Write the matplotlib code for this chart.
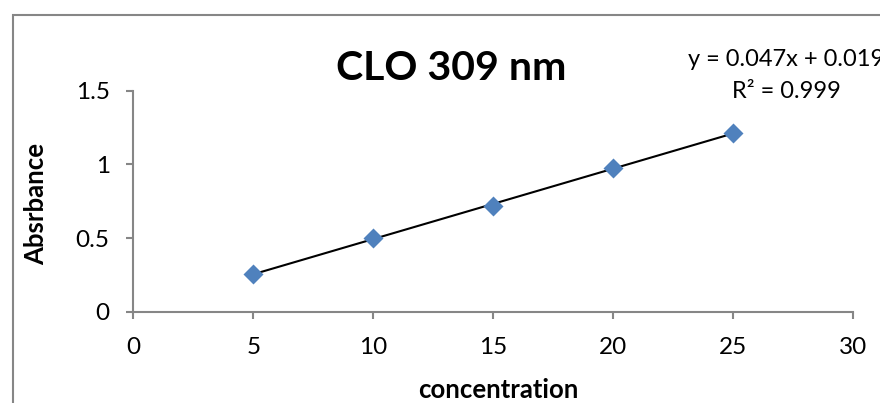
import numpy as np
import matplotlib
matplotlib.use("Agg")
from matplotlib import pyplot as plt
from matplotlib.patches import Rectangle

# calibration data
conc = [5, 10, 15, 20, 25]
absorb = [0.256, 0.498, 0.718, 0.978, 1.211]
xticks = [0, 5, 10, 15, 20, 25, 30]
yticks = [0, 0.5, 1, 1.5]
title = "CLO 309 nm"
eq_line = "y = 0.047x + 0.019"
r2_line = "R² = 0.999"

plt.rcParams['font.family'] = ['Lato', 'DejaVu Sans']
grey = "#868686"
blue = "#4F81BD"

W, H = 880, 403
fig = plt.figure(figsize=(8.8, 4.03), dpi=100)
ax = fig.add_axes([133.3/W, 1-311.7/H, 720/W, 221/H])

# outer chart border (cropped on the right and bottom)
fig.patches.append(Rectangle((12.5/W, -0.1), 1.2, 1.1 - 15/H,
                             transform=fig.transFigure, fill=False,
                             edgecolor=grey, lw=1.5))

# linear trendline
k, b = np.polyfit(conc, absorb, 1)
xs = np.array([conc[0], conc[-1]])
ax.plot(xs, k*xs + b, color="black", lw=1.5, zorder=2)
ax.plot(conc, absorb, ls="none", marker="D", ms=10, color=blue, mec="none", zorder=3)

ax.set_xlim(0, 30)
ax.set_ylim(0, 1.5)
ax.set_xticks(xticks)
ax.set_yticks(yticks)
ax.set_xticklabels([str(v) for v in xticks])
ax.set_yticklabels(["0", "0.5", "1", "1.5"])
for s in ["top", "right"]:
    ax.spines[s].set_visible(False)
for s in ["left", "bottom"]:
    ax.spines[s].set_color(grey)
    ax.spines[s].set_linewidth(1.5)
ax.tick_params(axis="both", direction="out", length=5, width=1.5, color=grey,
               labelsize=17.5, labelcolor="black")
ax.tick_params(axis="y", pad=12)
ax.tick_params(axis="x", pad=13)

fig.text(451.5/W, 1-80/H, title, ha="center", va="baseline",
         fontsize=29.5, fontweight="bold")
# trendline label, cut at the right edge as in the original
fig.text(786/W, 1-66/H, eq_line, ha="center", va="baseline", fontsize=17)
fig.text(786/W, 1-98/H, r2_line, ha="center", va="baseline", fontsize=17)
fig.text(48/W, 1-204/H, "Absrbance", rotation=90, ha="right", va="center",
         fontsize=18.5, fontweight="bold")
fig.text(498/W, 1-398/H, "concentration", ha="center", va="baseline",
         fontsize=18.5, fontweight="bold")

fig.savefig("out.png", dpi=100)
